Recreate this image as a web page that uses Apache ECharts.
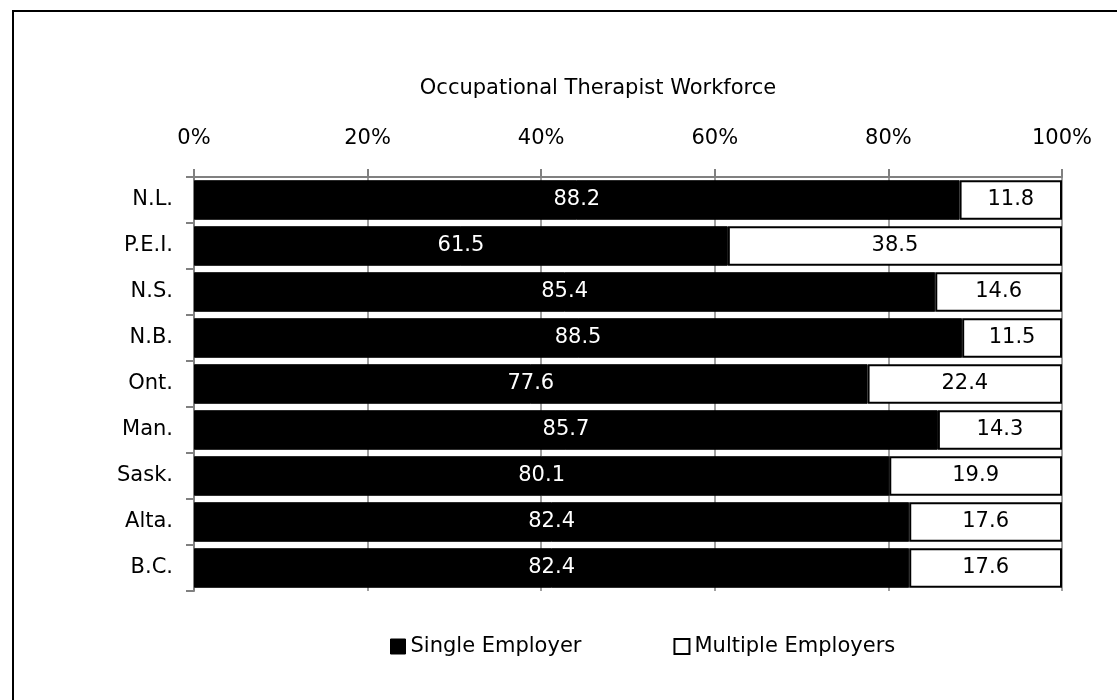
<!DOCTYPE html>
<html><head><meta charset="utf-8">
<script src="https://cdn.jsdelivr.net/npm/echarts@6/dist/echarts.min.js"></script>
<style>html,body{margin:0;padding:0;background:#fff}#c{width:1117px;height:700px}</style>
</head><body><div id="c"></div>
<script>
const categories = ['N.L.', 'P.E.I.', 'N.S.', 'N.B.', 'Ont.', 'Man.', 'Sask.', 'Alta.', 'B.C.'];
const singleEmployer = [88.2, 61.5, 85.4, 88.5, 77.6, 85.7, 80.1, 82.4, 82.4];
const multipleEmployers = [11.8, 38.5, 14.6, 11.5, 22.4, 14.3, 19.9, 17.6, 17.6];
const titleText = 'Occupational Therapist Workforce';

const font = 'DejaVu Sans';
const chart = echarts.init(document.getElementById('c'));
chart.setOption({
  animation: false,
  textStyle: { fontFamily: font },
  graphic: [{
    type: 'rect', shape: { x: 13, y: 11, width: 1200, height: 800 },
    style: { fill: 'none', stroke: '#000', lineWidth: 2 }, silent: true, z: -10
  }],
  title: {
    text: titleText, left: 593, top: 73, textAlign: 'center',
    textStyle: { fontFamily: font, fontSize: 21, fontWeight: 'normal', color: '#000' }
  },
  legend: {
    bottom: 38, left: 385, itemGap: 92, itemWidth: 15, itemHeight: 15,
    icon: 'rect', selectedMode: false,
    textStyle: { fontFamily: font, fontSize: 21, color: '#000' },
    data: [
      { name: 'Single Employer', itemStyle: { color: '#000', borderColor: '#000', borderWidth: 1 } },
      { name: 'Multiple Employers', itemStyle: { color: '#fff', borderColor: '#000', borderWidth: 2 } }
    ]
  },
  grid: { left: 194, right: 55, top: 177, bottom: 109 },
  xAxis: {
    type: 'value', position: 'top', min: 0, max: 100, interval: 20,
    axisLine: { show: true, lineStyle: { color: '#808080', width: 2 } },
    axisTick: { show: true, length: 8, lineStyle: { color: '#808080', width: 2 } },
    axisLabel: { formatter: '{value}%', fontFamily: font, fontSize: 21, color: '#000', margin: 28 },
    splitLine: { show: true, lineStyle: { color: '#808080', width: 1.5 } }
  },
  yAxis: {
    type: 'category', data: categories, inverse: true,
    axisLine: { show: true, lineStyle: { color: '#808080', width: 2 } },
    axisTick: { show: true, length: 8, lineStyle: { color: '#808080', width: 2 } },
    axisLabel: { fontFamily: font, fontSize: 21, color: '#000', margin: 21 }
  },
  series: [
    {
      name: 'Single Employer', type: 'bar', stack: 's', data: singleEmployer,
      barCategoryGap: '14%',
      itemStyle: { color: '#000', borderColor: '#000', borderWidth: 1 },
      label: { show: true, position: 'inside', color: '#fff', fontFamily: font, fontSize: 21, formatter: p => p.value.toFixed(1) }
    },
    {
      name: 'Multiple Employers', type: 'bar', stack: 's', data: multipleEmployers,
      itemStyle: { color: '#fff', borderColor: '#000', borderWidth: 2 },
      label: { show: true, position: 'inside', color: '#000', fontFamily: font, fontSize: 21, formatter: p => p.value.toFixed(1) }
    }
  ]
});
</script></body></html>
